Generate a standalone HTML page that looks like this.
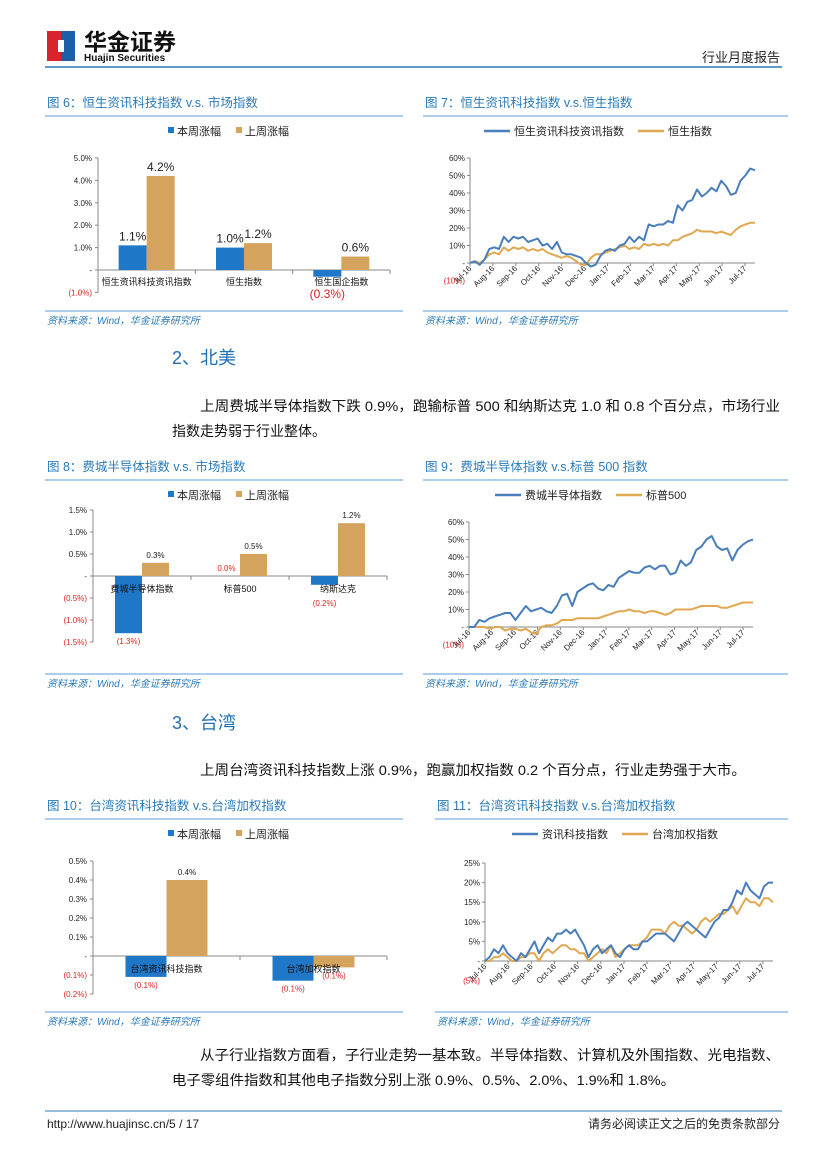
<!DOCTYPE html>
<html><head><meta charset="utf-8">
<style>
html,body{margin:0;padding:0;background:#fff;}
body{width:827px;height:1169px;overflow:hidden;position:relative;font-family:"Liberation Sans","Noto Sans CJK SC",sans-serif;}
svg text{font-family:"Liberation Sans","Noto Sans CJK SC",sans-serif;}
</style></head>
<body>
<svg id="page" width="827" height="1169" viewBox="0 0 827 1169" xmlns="http://www.w3.org/2000/svg">
 <g>
  <rect x="47" y="31" width="14" height="30" fill="#D9232D"/>
  <rect x="61" y="31" width="14" height="30" fill="#1B5FA8"/>
  <rect x="58" y="40" width="6" height="12" fill="#fff"/>
  <text x="84" y="50" font-size="23" font-weight="bold" fill="#111">华金证券</text>
  <text x="84" y="61" font-size="10" font-weight="bold" fill="#111">Huajin Securities</text>
 </g>
 <text x="780" y="62" font-size="13" text-anchor="end" fill="#222">行业月度报告</text>
 <line x1="45" y1="67" x2="782" y2="67" stroke="#2C79B8" stroke-width="1.5"/>

 <text x="172" y="364" font-size="18" fill="#1F6FB5">2、北美</text>
 <text font-size="14" fill="#111"><tspan x="200" y="411" textLength="580" lengthAdjust="spacingAndGlyphs">上周费城半导体指数下跌 0.9%，跑输标普 500 和纳斯达克 1.0 和 0.8 个百分点，市场行业</tspan><tspan x="172" y="436">指数走势弱于行业整体。</tspan></text>
 <text x="172" y="729" font-size="18" fill="#1F6FB5">3、台湾</text>
 <text x="200" y="775" font-size="14" fill="#111" textLength="546" lengthAdjust="spacingAndGlyphs">上周台湾资讯科技指数上涨 0.9%，跑赢加权指数 0.2 个百分点，行业走势强于大市。</text>
 <text font-size="14" fill="#111"><tspan x="200" y="1060" textLength="580" lengthAdjust="spacingAndGlyphs">从子行业指数方面看，子行业走势一基本致。半导体指数、计算机及外围指数、光电指数、</tspan><tspan x="172" y="1085" textLength="503" lengthAdjust="spacingAndGlyphs">电子零组件指数和其他电子指数分别上涨 0.9%、0.5%、2.0%、1.9%和 1.8%。</tspan></text>

 <line x1="45" y1="1111" x2="782" y2="1111" stroke="#2C79B8" stroke-width="1"/>
 <text x="47" y="1128" font-size="12" fill="#222">http://www.huajinsc.cn/5 / 17</text>
 <text x="780" y="1128" font-size="12" text-anchor="end" fill="#222">请务必阅读正文之后的免责条款部分</text>
 <g id="charts"></g>
</svg>
<script>
// ---------- data ----------
const fig6Cats = ["恒生资讯科技资讯指数","恒生指数","恒生国企指数"];
const fig6This = [1.1, 1.0, -0.3];
const fig6Last = [4.2, 1.2, 0.6];
const fig6Ticks = [5,4,3,2,1,0,-1];

const fig8Cats = ["费城半导体指数","标普500","纳斯达克"];
const fig8This = [-1.3, 0.0, -0.2];
const fig8Last = [0.3, 0.5, 1.2];
const fig8Ticks = [1.5,1.0,0.5,0,-0.5,-1.0,-1.5];

const fig10Cats = ["台湾资讯科技指数","台湾加权指数"];
const fig10This = [-0.11, -0.13];
const fig10Last = [0.4, -0.06];
const fig10Ticks = [0.5,0.4,0.3,0.2,0.1,0,-0.1,-0.2];

const months = ["Jul-16","Aug-16","Sep-16","Oct-16","Nov-16","Dec-16","Jan-17","Feb-17","Mar-17","Apr-17","May-17","Jun-17","Jul-17"];
const fig7Ticks = [60,50,40,30,20,10,0,-10];
const fig7Tech = [0,1,-1,2,8,9,8,15,12,15,14,15,12,13,14,10,11,8,12,6,5,5,4,3,0,-2,-1,4,7,8,7,10,11,15,12,15,13,22,21,22,22,24,23,33,30,35,36,42,38,40,43,41,47,44,39,40,47,50,54,53];
const fig7HSI = [0,1,0,2,5,6,5,9,7,9,8,9,7,8,7,8,6,5,4,3,4,3,1,-1,-1,3,5,5,6,7,8,9,10,8,9,8,11,10,11,10,11,10,13,13,15,16,17,19,18,18,18,17,18,17,16,19,21,22,23,23];
const fig9Ticks = [60,50,40,30,20,10,0,-10];
const fig9SOX = [0,0,4,3,5,6,7,8,8,4,8,12,9,10,11,9,8,12,18,19,12,20,22,24,25,22,21,24,23,28,30,32,31,31,34,35,33,35,35,30,31,38,35,37,44,46,50,52,46,44,45,38,44,47,49,50];
const fig9SPX = [0,0,0,0,-1,0,0,-2,-1,-1,-2,-1,-3,-4,0,1,1,2,4,4,4,5,5,5,5,5,6,7,8,9,9,10,9,9,8,9,9,8,7,8,10,10,10,10,11,12,12,12,12,11,11,12,13,14,14,14];
const fig11Ticks = [25,20,15,10,5,0,-5];
const fig11Tech = [0,1,3,2,4,2,1,0,2,1,3,5,2,4,6,5,7,7,8,7,8,6,4,1,3,4,2,3,4,2,1,3,4,3,3,5,5,6,7,7,7,6,5,7,9,10,9,8,7,6,8,10,11,13,13,15,18,17,20,18,17,16,19,20,20];
const fig11TAIEX = [0,0,1,1,2,1,0,0,1,1,2,2,0,2,3,2,3,4,4,3,3,2,2,0,1,2,3,2,4,1,2,3,4,4,4,5,6,8,8,8,7,9,10,9,9,8,7,8,10,11,10,11,12,12,13,14,12,14,16,15,15,14,16,16,15];

// ---------- helpers ----------
const NS = "http://www.w3.org/2000/svg";
const root = document.getElementById('charts');
function mk(tag, attrs, parent, txt){
  const e = document.createElementNS(NS, tag);
  for (const k in attrs) e.setAttribute(k, attrs[k]);
  if (txt !== undefined) e.textContent = txt;
  (parent || root).appendChild(e);
  return e;
}
const BLUE='#1F77C8', TAN='#D4A35E', LBLUE='#4A7EBB', LORG='#E0A850', TBLUE='#2A7AB8';
function fmt(v, dec){
  if (Math.abs(v) < 1e-9) return '-';
  const s = Math.abs(v).toFixed(dec) + '%';
  return v < 0 ? '(' + s + ')' : s;
}
function frame(g, x, y, w, title, srcY){
  const t = mk('text', {x:x+2, y:y, 'font-size':12.5, fill:TBLUE}, g, title);
  
  
  mk('line', {x1:x, y1:y+9, x2:x+w, y2:y+9, stroke:'#5B9BD5', 'stroke-width':1}, g);
  mk('line', {x1:x, y1:srcY-13, x2:x+w, y2:srcY-13, stroke:'#5B9BD5', 'stroke-width':1}, g);
  const s = mk('text', {x:x+2, y:srcY, 'font-size':10, 'font-style':'italic', fill:TBLUE}, g, '资料来源：Wind，华金证券研究所');
  
  
}
function legend(g, cx, y, names, colors, isLine){
  const lg = mk('g', {}, g);
  
  
  let widths = names.map(n => (isLine ? 30 : 10) + n.length * 11 + 14);
  let total = widths.reduce((a,b)=>a+b,0);
  let x = cx - total/2;
  names.forEach((n,i)=>{
    const e = mk('g', {}, lg);
    
    
    if (isLine) mk('line', {x1:x, y1:y-4, x2:x+26, y2:y-4, stroke:colors[i], 'stroke-width':2.5}, e);
    else mk('rect', {x:x, y:y-8, width:6, height:6, fill:colors[i]}, e);
    mk('text', {x:x+(isLine?30:9), y:y, 'font-size':11, fill:'#222'}, e, n);
    x += widths[i];
  });
}
function barChart(o){
  const g = mk('g', {});
  
  
  frame(g, o.fx, o.fy, o.fw, o.title, o.srcY);
  legend(g, o.lcx, o.ly, ['本周涨幅','上周涨幅'], [BLUE, TAN], false);
  const yv = v => o.y0 - v * o.ppu;
  const ax = mk('g', {}, g);
  
  
  const ymin = Math.min(...o.ticks), ymax = Math.max(...o.ticks);
  mk('line', {x1:o.x0, y1:yv(ymax), x2:o.x0, y2:yv(ymin), stroke:'#888', 'stroke-width':1}, ax);
  o.ticks.forEach(t=>{
    mk('line', {x1:o.x0-3, y1:yv(t), x2:o.x0, y2:yv(t), stroke:'#888'}, ax);
    mk('text', {x:o.x0-6, y:yv(t)+3, 'font-size':8, 'text-anchor':'end', fill: t<0 ? '#E02020' : '#222'}, ax, fmt(t, o.dec));
  });
  const xa = mk('g', {}, g);
  
  
  mk('line', {x1:o.x0, y1:o.y0, x2:o.x1, y2:o.y0, stroke:'#888'}, xa);
  const n = o.cats.length, cw = (o.x1 - o.x0) / n;
  for (let i=1;i<=n;i++) mk('line', {x1:o.x0+i*cw, y1:o.y0, x2:o.x0+i*cw, y2:o.y0+4, stroke:'#888'}, xa);
  const labels = [];
  o.cats.forEach((c,i)=>{
    const cx = o.x0 + (i+0.5)*cw;
    const bw = o.bw;
    [[o.a, BLUE, -1], [o.b, TAN, 0]].forEach(([arr, col, off])=>{
      const v = arr[i];
      const bx = cx + off*bw;
      const top = Math.min(yv(v), o.y0), h = Math.abs(yv(v) - o.y0);
      const r = mk('rect', {x:bx, y:top, width:bw, height:Math.max(h,0), fill:col}, g);
      
      
      let ly = v >= 0 ? yv(v) - 5 : yv(v) + o.lfs + 3;
      if (v < 0 && o.negMin) ly = Math.max(ly, o.y0 + o.negMin);
      labels.push([bx+bw/2, ly, v, col]);
    });
    labels.push([cx, o.y0+o.catDy, c, 'cat']);
  });
  labels.forEach(([x, y, v, col])=>{
    if (col === 'cat') {
      const cl = mk('text', {x:x, y:y, 'font-size':9, 'text-anchor':'middle', fill:'#111'}, g, v);
      
      
    } else {
      const red = v < 0 || (Math.abs(v)<1e-9 && col===BLUE);
      const lb = mk('text', {x:x, y:y, 'font-size':o.lfs, 'text-anchor':'middle', fill: red ? '#E02020' : '#222'}, g, v<0 ? '(' + Math.abs(v).toFixed(1) + '%)' : v.toFixed(1)+'%');
      
      
    }
  });
}
function lineChart(o){
  const g = mk('g', {});
  
  
  frame(g, o.fx, o.fy, o.fw, o.title, o.srcY);
  legend(g, o.lcx, o.ly, o.names, [LBLUE, LORG], true);
  const yv = v => o.y0 - v * o.ppu;
  const ax = mk('g', {}, g);
  
  
  const ymax = Math.max(...o.ticks);
  mk('line', {x1:o.x0, y1:yv(ymax), x2:o.x0, y2:o.y0, stroke:'#888'}, ax);
  o.ticks.forEach(t=>{
    if (t >= 0) mk('line', {x1:o.x0-3, y1:yv(t), x2:o.x0, y2:yv(t), stroke:'#888'}, ax);
    mk('text', {x:o.x0-5, y:yv(t)+3, 'font-size':8, 'text-anchor':'end', fill: t<0 ? '#E02020' : '#222'}, ax, t===0 ? '-' : (t<0 ? '('+(-t)+'%)' : t+'%'));
  });
  const xa = mk('g', {}, g);
  
  
  mk('line', {x1:o.x0, y1:o.y0, x2:o.x1, y2:o.y0, stroke:'#888'}, xa);
  const step = (o.x1 - o.x0) * 0.965 / (months.length - 1);
  months.forEach((m,k)=>{
    const x = o.x0 + k*step;
    mk('line', {x1:x, y1:o.y0, x2:x, y2:o.y0+3, stroke:'#888'}, xa);
    const t = mk('text', {x:x+2, y:o.y0+6, 'font-size':8, 'text-anchor':'end', fill:'#222', transform:'rotate(-45 '+(x+2)+' '+(o.y0+6)+')'}, xa, m);
    
    
  });
  [[o.s2, LORG, 'series-2-line'], [o.s1, LBLUE, 'series-1-line']].forEach(([arr, col, nm])=>{
    const n = arr.length;
    const pts = arr.map((v,i)=> (o.x0 + i/(n-1)*(o.x1 - o.x0)).toFixed(1) + ',' + yv(v).toFixed(1)).join(' ');
    const p = mk('polyline', {points:pts, fill:'none', stroke:col, 'stroke-width':2, 'stroke-linejoin':'round'}, g);
    
    
  });
}

barChart({name:'fig6-bar-chart', fx:45, fy:107, fw:358, srcY:324, title:'图 6：恒生资讯科技指数 v.s. 市场指数', lcx:236, ly:135,
  x0:98, x1:390, y0:270, ppu:22.4, ticks:fig6Ticks, dec:1, cats:fig6Cats, a:fig6This, b:fig6Last, bw:28, lfs:12, catDy:15, negMin:28});
lineChart({name:'fig7-line-chart', fx:423, fy:107, fw:365, srcY:324, title:'图 7：恒生资讯科技指数 v.s.恒生指数', lcx:605, ly:135,
  names:['恒生资讯科技资讯指数','恒生指数'], x0:470, x1:755, y0:263, ppu:1.75, ticks:fig7Ticks, s1:fig7Tech, s2:fig7HSI});
barChart({name:'fig8-bar-chart', fx:45, fy:471, fw:358, srcY:687, title:'图 8：费城半导体指数 v.s. 市场指数', lcx:236, ly:499,
  x0:93, x1:387, y0:576, ppu:44, ticks:fig8Ticks, dec:1, cats:fig8Cats, a:fig8This, b:fig8Last, bw:27, lfs:8, catDy:16, negMin:30});
lineChart({name:'fig9-line-chart', fx:423, fy:471, fw:365, srcY:687, title:'图 9：费城半导体指数 v.s.标普 500 指数', lcx:605, ly:499,
  names:['费城半导体指数','标普500'], x0:469, x1:753, y0:627, ppu:1.75, ticks:fig9Ticks, s1:fig9SOX, s2:fig9SPX});
barChart({name:'fig10-bar-chart', fx:45, fy:810, fw:358, srcY:1025, title:'图 10：台湾资讯科技指数 v.s.台湾加权指数', lcx:236, ly:838,
  x0:93, x1:387, y0:956, ppu:190, ticks:fig10Ticks, dec:1, cats:fig10Cats, a:fig10This, b:fig10Last, bw:41, lfs:8, catDy:16});
lineChart({name:'fig11-line-chart', fx:435, fy:810, fw:353, srcY:1025, title:'图 11：台湾资讯科技指数 v.s.台湾加权指数', lcx:622, ly:838,
  names:['资讯科技指数','台湾加权指数'], x0:485, x1:773, y0:961, ppu:3.92, ticks:fig11Ticks, s1:fig11Tech, s2:fig11TAIEX});
</script>
</body></html>
